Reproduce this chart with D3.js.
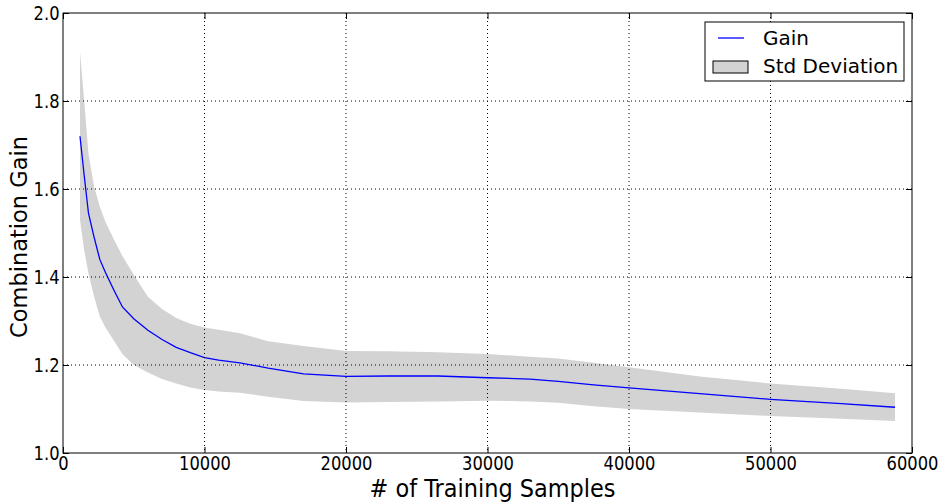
<!DOCTYPE html>
<html>
<head>
<meta charset="utf-8">
<script src="https://cdn.jsdelivr.net/npm/d3@7"></script>
<style>
  body { margin: 0; background: #fff; }
  text { font-family: "DejaVu Sans", sans-serif; fill: #000; }
</style>
</head>
<body>
<svg id="chart" width="944" height="504"></svg>
<script>
  // values
  var samples = [1200, 1500, 1800, 2200, 2600, 3000, 3600, 4200, 5000, 6000, 7000, 8000, 9000, 10000, 11000,
    12500, 14500, 17000, 20000, 23000, 26500, 30000, 33000, 35000, 37500, 40000, 45000, 50000, 55000, 58800];
  var gain = [1.72, 1.63, 1.545, 1.49, 1.44, 1.41, 1.37, 1.332, 1.305, 1.279, 1.258, 1.24, 1.228, 1.217, 1.211,
    1.205, 1.193, 1.18, 1.174, 1.175, 1.175, 1.171, 1.168, 1.163, 1.155, 1.148, 1.135, 1.122, 1.112, 1.104];
  var devUpper = [1.912, 1.80, 1.68, 1.605, 1.56, 1.525, 1.485, 1.448, 1.405, 1.355, 1.327, 1.307, 1.294, 1.285, 1.28,
    1.272, 1.254, 1.243, 1.232, 1.231, 1.229, 1.225, 1.219, 1.215, 1.205, 1.195, 1.174, 1.158, 1.146, 1.136];
  var devLower = [1.53, 1.46, 1.408, 1.355, 1.31, 1.285, 1.255, 1.225, 1.2, 1.183, 1.168, 1.158, 1.149, 1.143, 1.14,
    1.137, 1.128, 1.118, 1.115, 1.116, 1.117, 1.119, 1.117, 1.114, 1.106, 1.1, 1.092, 1.084, 1.078, 1.073];

  var xTicks = [0, 10000, 20000, 30000, 40000, 50000, 60000];
  var yTicks = [1.0, 1.2, 1.4, 1.6, 1.8, 2.0];
  var seriesNames = ['Gain', 'Std Deviation'];

  var margin = {top: 13, right: 32, bottom: 51, left: 63};
  var width = 944 - margin.left - margin.right;
  var height = 504 - margin.top - margin.bottom;

  var svg = d3.select('#chart');
  var g = svg.append('g')
    .attr('transform', 'translate(' + margin.left + ',' + margin.top + ')');

  var x = d3.scaleLinear().domain([0, 60000]).range([0, width]);
  var y = d3.scaleLinear().domain([1.0, 2.0]).range([height, 0]);

  var rows = samples.map(function(s, i) {
    return {s: s, gain: gain[i], hi: devUpper[i], lo: devLower[i]};
  });

  // std deviation band
  g.append('path')
    .datum(rows)
    .attr('fill', '#d3d3d3')
    .attr('d', d3.area()
      .x(function(d) { return x(d.s); })
      .y0(function(d) { return y(d.lo); })
      .y1(function(d) { return y(d.hi); }));

  // gain line
  g.append('path')
    .datum(rows)
    .attr('fill', 'none')
    .attr('stroke', '#0000ff')
    .attr('stroke-width', 1.3)
    .attr('d', d3.line()
      .x(function(d) { return x(d.s); })
      .y(function(d) { return y(d.gain); }));

  // dotted grid
  g.append('g')
    .selectAll('line.vgrid')
    .data(xTicks.slice(1, -1))
    .enter().append('line')
    .attr('class', 'vgrid')
    .attr('x1', function(d) { return x(d); })
    .attr('x2', function(d) { return x(d); })
    .attr('y1', 0)
    .attr('y2', height);

  g.append('g')
    .selectAll('line.hgrid')
    .data(yTicks.slice(1, -1))
    .enter().append('line')
    .attr('class', 'hgrid')
    .attr('x1', 0)
    .attr('x2', width)
    .attr('y1', function(d) { return y(d); })
    .attr('y2', function(d) { return y(d); });

  g.selectAll('line.vgrid, line.hgrid')
    .attr('stroke', '#000')
    .attr('stroke-width', 1)
    .attr('stroke-dasharray', '1,3');

  // axes, ticks pointing inward on all four sides
  var xAxis = g.append('g')
    .attr('transform', 'translate(0,' + height + ')')
    .call(d3.axisBottom(x).tickValues(xTicks).tickFormat(d3.format('d')).tickSize(-6).tickPadding(4));
  g.append('g')
    .call(d3.axisTop(x).tickValues(xTicks).tickFormat('').tickSize(-6));
  var yAxis = g.append('g')
    .call(d3.axisLeft(y).tickValues(yTicks).tickFormat(d3.format('.1f')).tickSize(-6).tickPadding(4));
  g.append('g')
    .attr('transform', 'translate(' + width + ',0)')
    .call(d3.axisRight(y).tickValues(yTicks).tickFormat('').tickSize(-6));

  g.selectAll('.domain').remove();
  g.selectAll('.tick line').attr('stroke', '#000');

  xAxis.selectAll('text')
    .attr('font-size', 19)
    .attr('transform', 'scale(0.86,1)');
  yAxis.selectAll('text')
    .attr('font-size', 19)
    .attr('dy', '0.36em')
    .attr('transform', 'scale(0.86,1)');

  g.append('rect')
    .attr('width', width)
    .attr('height', height)
    .attr('fill', 'none')
    .attr('stroke', '#000')
    .attr('stroke-width', 1);

  // axis titles
  svg.append('text')
    .attr('transform', 'translate(' + (margin.left + width / 2 + 5) + ',497) scale(0.88,1)')
    .attr('text-anchor', 'middle')
    .attr('font-size', 25.5)
    .text('# of Training Samples');

  svg.append('text')
    .attr('transform', 'translate(27,' + (margin.top + height / 2 + 4) + ') rotate(-90)')
    .attr('text-anchor', 'middle')
    .attr('font-size', 22.5)
    .text('Combination Gain');

  // legend
  var legend = svg.append('g').attr('transform', 'translate(705,22)');
  legend.append('rect')
    .attr('width', 199)
    .attr('height', 59)
    .attr('fill', '#fff')
    .attr('stroke', '#000');
  legend.append('line')
    .attr('x1', 13).attr('x2', 39)
    .attr('y1', 16).attr('y2', 16)
    .attr('stroke', '#0000ff')
    .attr('stroke-width', 1.3);
  legend.append('rect')
    .attr('x', 8).attr('y', 39)
    .attr('width', 35).attr('height', 12)
    .attr('fill', '#d3d3d3')
    .attr('stroke', '#000');
  legend.selectAll('text.entry')
    .data(seriesNames)
    .enter().append('text')
    .attr('class', 'entry')
    .attr('x', 58)
    .attr('y', function(d, i) { return 23 + i * 28; })
    .attr('font-size', 20)
    .text(function(d) { return d; });
</script>
</body>
</html>
